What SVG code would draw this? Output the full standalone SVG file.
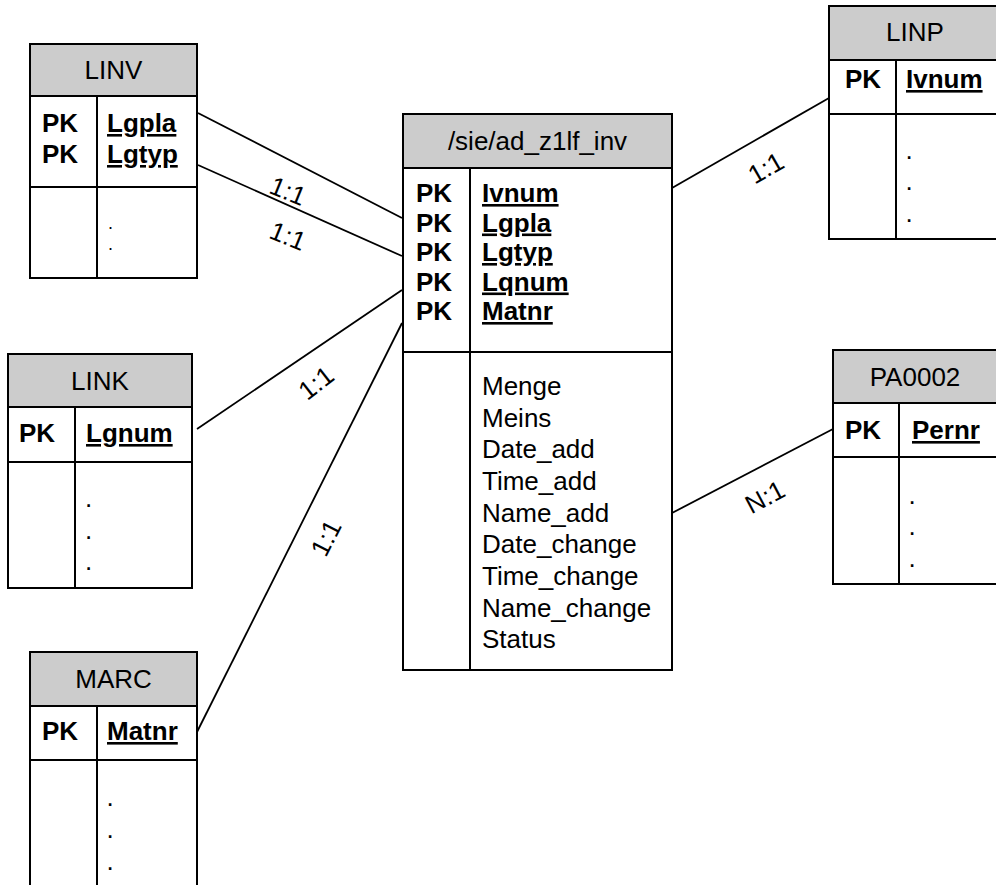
<svg xmlns="http://www.w3.org/2000/svg" width="996" height="885" viewBox="0 0 996 885">
<style>
text{font-family:"Liberation Sans",Arial,sans-serif;font-size:26px;fill:#000}
.hdr{fill:#cccccc;stroke:#000;stroke-width:2}
.box{fill:#fff;stroke:#000;stroke-width:2}
.ln{stroke:#000;stroke-width:2;fill:none}
.t{text-anchor:middle}
.b{font-weight:bold}
.u{font-weight:bold;text-decoration:underline}
.con{stroke:#000;stroke-width:1.8;fill:none}
.d{font-size:18px}
</style>
<rect width="996" height="885" fill="#fff"/>
<g id="connectors">
<line class="con" x1="198" y1="113" x2="402" y2="218"/>
<line class="con" x1="198" y1="165" x2="402" y2="256"/>
<line class="con" x1="197" y1="429" x2="402" y2="290"/>
<line class="con" x1="197" y1="732" x2="402" y2="323"/>
<line class="con" x1="672" y1="188" x2="829" y2="98"/>
<line class="con" x1="672" y1="513" x2="833" y2="429"/>
<text class="t" transform="translate(288,191) rotate(22)" y="9">1:1</text>
<text class="t" transform="translate(288,236) rotate(22)" y="9">1:1</text>
<text class="t" transform="translate(316,383) rotate(-38)" y="9">1:1</text>
<text class="t" transform="translate(326,538) rotate(-63)" y="9">1:1</text>
<text class="t" transform="translate(766,168) rotate(-30)" y="9">1:1</text>
<text class="t" transform="translate(765,497) rotate(-28)" y="9">N:1</text>
</g>
<g id="LINV">
<rect class="box" x="30" y="44" width="167" height="234"/>
<rect class="hdr" x="30" y="44" width="167" height="52"/>
<line class="ln" x1="30" y1="187" x2="197" y2="187"/>
<line class="ln" x1="97" y1="96" x2="97" y2="278"/>
<text class="t" x="113.5" y="79">LINV</text>
<text class="b" x="42" y="132">PK</text>
<text class="b" x="42" y="163">PK</text>
<text class="u" x="107" y="132">Lgpla</text>
<text class="u" x="107" y="163">Lgtyp</text>
<text class="d" x="108" y="229">.</text>
<text class="d" x="108" y="250">.</text>
</g>
<g id="central">
<rect class="box" x="403" y="114" width="269" height="556"/>
<rect class="hdr" x="403" y="114" width="269" height="54"/>
<line class="ln" x1="403" y1="352" x2="672" y2="352"/>
<line class="ln" x1="470" y1="168" x2="470" y2="670"/>
<text class="t" x="537.5" y="150">/sie/ad_z1lf_inv</text>
<text class="b" x="416" y="202">PK</text>
<text class="b" x="416" y="231.5">PK</text>
<text class="b" x="416" y="261">PK</text>
<text class="b" x="416" y="290.5">PK</text>
<text class="b" x="416" y="320">PK</text>
<text class="u" x="482" y="202">Ivnum</text>
<text class="u" x="482" y="231.5">Lgpla</text>
<text class="u" x="482" y="261">Lgtyp</text>
<text class="u" x="482" y="290.5">Lqnum</text>
<text class="u" x="482" y="320">Matnr</text>
<text x="482" y="395">Menge</text>
<text x="482" y="426.7">Meins</text>
<text x="482" y="458.3">Date_add</text>
<text x="482" y="490">Time_add</text>
<text x="482" y="521.6">Name_add</text>
<text x="482" y="553.3">Date_change</text>
<text x="482" y="585">Time_change</text>
<text x="482" y="616.6">Name_change</text>
<text x="482" y="648.3">Status</text>
</g>
<g id="LINP">
<rect class="box" x="829" y="6" width="172" height="233"/>
<rect class="hdr" x="829" y="6" width="172" height="54"/>
<line class="ln" x1="829" y1="114" x2="1001" y2="114"/>
<line class="ln" x1="896" y1="60" x2="896" y2="239"/>
<text class="t" x="915" y="41">LINP</text>
<text class="b" x="845" y="88">PK</text>
<text class="u" x="906" y="88">Ivnum</text>
<text x="905.5" y="159">.</text>
<text x="905.5" y="190">.</text>
<text x="905.5" y="222">.</text>
</g>
<g id="PA0002">
<rect class="box" x="833" y="350" width="167" height="234"/>
<rect class="hdr" x="833" y="350" width="167" height="53"/>
<line class="ln" x1="833" y1="457" x2="1000" y2="457"/>
<line class="ln" x1="899" y1="403" x2="899" y2="584"/>
<text class="t" x="915" y="386">PA0002</text>
<text class="b" x="845" y="439">PK</text>
<text class="u" x="912" y="439">Pernr</text>
<text x="908.5" y="504">.</text>
<text x="908.5" y="535">.</text>
<text x="908.5" y="567">.</text>
</g>
<g id="LINK">
<rect class="box" x="8" y="354" width="184" height="234"/>
<rect class="hdr" x="8" y="354" width="184" height="53"/>
<line class="ln" x1="8" y1="462" x2="192" y2="462"/>
<line class="ln" x1="75" y1="407" x2="75" y2="588"/>
<text class="t" x="100" y="390">LINK</text>
<text class="b" x="19" y="442">PK</text>
<text class="u" x="86" y="442">Lgnum</text>
<text x="85" y="507">.</text>
<text x="85" y="539">.</text>
<text x="85" y="570">.</text>
</g>
<g id="MARC">
<rect class="box" x="30" y="652" width="167" height="250"/>
<rect class="hdr" x="30" y="652" width="167" height="54"/>
<line class="ln" x1="30" y1="760" x2="197" y2="760"/>
<line class="ln" x1="97" y1="706" x2="97" y2="902"/>
<text class="t" x="113.5" y="688">MARC</text>
<text class="b" x="42" y="740">PK</text>
<text class="u" x="107" y="740">Matnr</text>
<text x="106.5" y="806">.</text>
<text x="106.5" y="838">.</text>
<text x="106.5" y="870">.</text>
</g>
</svg>
